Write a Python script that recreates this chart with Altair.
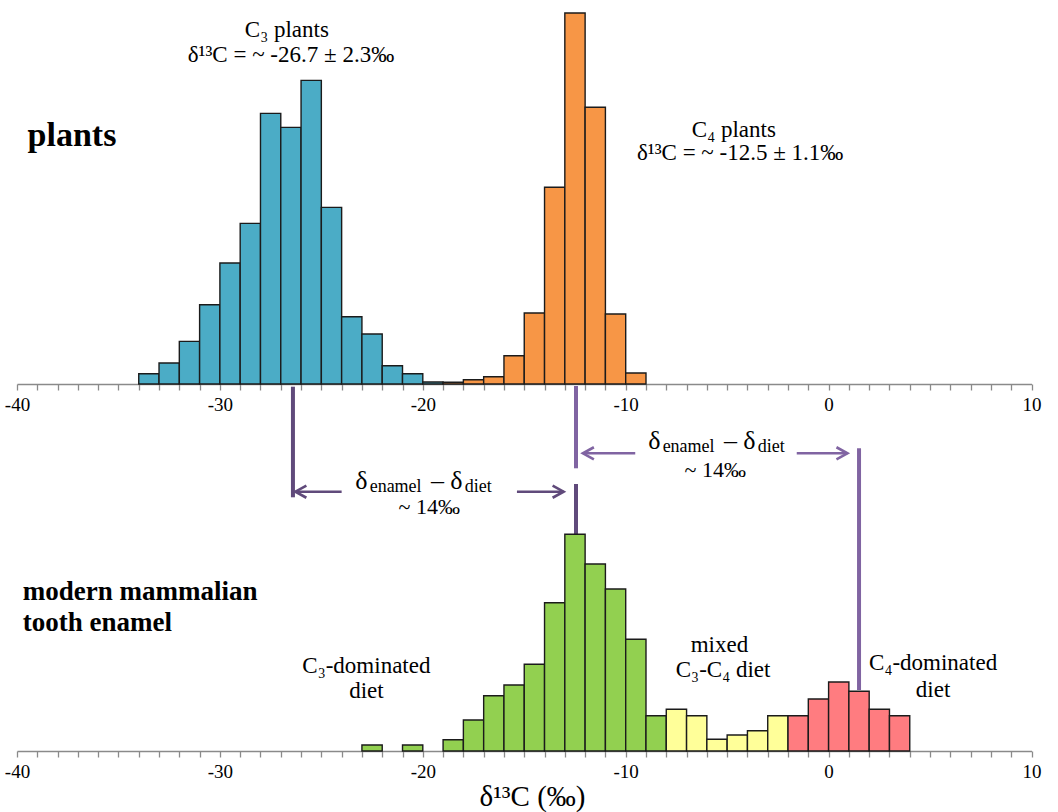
import altair as alt
import pandas as pd

# ---------------- data ----------------
# plants: bin start (δ13C, ‰, 1‰ bins) and relative frequency
c3_start = list(range(-34, -19))
c3_count = [10.3, 21, 42.6, 79.3, 121, 160.6, 270.6, 256.6, 303.6, 176.6, 67.3, 50, 18.3, 10.3, 2]
c4_start = list(range(-19, -9))
c4_count = [1.7, 4.3, 7.3, 28.3, 71, 196.7, 371, 276.7, 70, 11]

# modern mammalian tooth enamel
c3diet_start = [-23, -21, -19, -18, -17, -16, -15, -14, -13, -12, -11, -10, -9]
c3diet_count = [6, 6, 11.3, 31, 55.3, 66, 86.7, 148.3, 216.7, 187, 162, 111.7, 35.3]
mixed_start = [-8, -7, -6, -5, -4, -3]
mixed_count = [41.7, 35.3, 11.7, 16, 20.3, 35.3]
c4diet_start = [-2, -1, 0, 1, 2, 3]
c4diet_count = [35.3, 52, 69, 59.7, 41.7, 35.3]

tick_values = list(range(-40, 11))

group_names = ["C3", "C4", "C3 diet", "mixed", "C4 diet"]
group_colors = ["#4BACC6", "#F79646", "#92D050", "#FFFF99", "#FF7C80"]

DARK = "#604A7B"
LIGHT = "#8064A2"

# mean markers and offset arrows
vline_x = [-26.4, -12.45, -12.45, 1.5]
vline_y = [364.3, 365, 267, 302.7]
vline_y2 = [253.7, 282.7, 217, 61]
vline_col = [DARK, LIGHT, DARK, LIGHT]

shaft_x = [-26.28, -15.36, -12.11, -1.57]
shaft_x2 = [-24.0, -13.06, -9.53, 0.93]
shaft_y = [259.3, 259.3, 297.7, 297.7]
shaft_col = [DARK, DARK, LIGHT, LIGHT]

headL_x = [-26.28, -12.11]
headL_y = [259.3, 297.7]
headL_col = [DARK, LIGHT]
headR_x = [-13.06, 0.93]
headR_y = [259.3, 297.7]
headR_col = [DARK, LIGHT]

# ---------------- frames ----------------
plants = pd.DataFrame({
    "start": c3_start + c4_start,
    "count": c3_count + c4_count,
    "group": ["C3"] * len(c3_start) + ["C4"] * len(c4_start),
})
enamel = pd.DataFrame({
    "start": c3diet_start + mixed_start + c4diet_start,
    "count": c3diet_count + mixed_count + c4diet_count,
    "group": ["C3 diet"] * len(c3diet_start) + ["mixed"] * len(mixed_start) + ["C4 diet"] * len(c4diet_start),
})

FONT = "'Liberation Serif', 'Times New Roman', 'DejaVu Serif', serif"
W = 1014.5
H1 = 374
H2 = 320

xscale = alt.Scale(domain=[-40, 10], nice=False, zero=False)
label_expr = "datum.value % 10 == 0 ? '' + datum.value : ''"


def X(field, title=None):
    return alt.X(field, type="quantitative", scale=xscale,
                 axis=alt.Axis(values=tick_values, labelExpr=label_expr,
                               labelFlush=False, labelOverlap=False, title=title),
                 title=title)


def Y(field, dom):
    return alt.Y(field, type="quantitative", scale=alt.Scale(domain=[0, dom], nice=False, zero=True), axis=None)


fill_enc = alt.Fill("group:N", scale=alt.Scale(domain=group_names, range=group_colors), legend=None)


def bars(df, dom, title=None):
    return alt.Chart(df).transform_calculate(end="datum.start + 1").mark_rect(
        stroke="#1b1b1b", strokeWidth=1.4
    ).encode(
        x=X("start", title), x2=alt.X2("end:Q"),
        y=Y("count", dom), y2=alt.datum(0),
        fill=fill_enc,
    )


def texts(x, y, t, dom, size, align="center", weight="normal", title=None):
    df = pd.DataFrame({"x": x, "y": y, "t": t})
    return alt.Chart(df).mark_text(
        font=FONT, fontSize=size, align=align, baseline="alphabetic",
        fontWeight=weight, color="#000000"
    ).encode(x=X("x", title), y=Y("y", dom), text="t:N")


# ---------------- top panel: plants ----------------
top = alt.layer(
    bars(plants, H1),
    texts([-26.7, -26.5, -4.67, -4.36], [347, 322, 247, 224],
          ["C\u2083 plants", "\u03b4\u00b9\u00b3C = ~ -26.7 \u00b1 2.3\u2030",
           "C\u2084 plants", "\u03b4\u00b9\u00b3C = ~ -12.5 \u00b1 1.1\u2030"], H1, 23),
    texts([-39.48], [238], ["plants"], H1, 34, align="left", weight="bold"),
).properties(width=W, height=H1)

# ---------------- bottom panel: tooth enamel ----------------
TITLE = "\u03b4\u00b9\u00b3C (\u2030)"

vlines = alt.Chart(pd.DataFrame({"x": vline_x, "y": vline_y, "y2": vline_y2, "c": vline_col})).mark_rule(
    strokeWidth=4
).encode(x=X("x", TITLE), y=Y("y", H2), y2="y2:Q", color=alt.Color("c:N", scale=None))

shafts = alt.Chart(pd.DataFrame({"x": shaft_x, "x2": shaft_x2, "y": shaft_y, "c": shaft_col})).mark_rule(
    strokeWidth=2.6
).encode(x=X("x", TITLE), x2="x2:Q", y=Y("y", H2), color=alt.Color("c:N", scale=None))

headsL = alt.Chart(pd.DataFrame({"x": headL_x, "y": headL_y, "c": headL_col})).mark_point(
    shape="M 1 -0.55 L 0 0 L 1 0.55", filled=False, size=484, strokeWidth=2.6, opacity=1
).encode(x=X("x", TITLE), y=Y("y", H2), color=alt.Color("c:N", scale=None))

headsR = alt.Chart(pd.DataFrame({"x": headR_x, "y": headR_y, "c": headR_col})).mark_point(
    shape="M -1 -0.55 L 0 0 L -1 0.55", filled=False, size=484, strokeWidth=2.6, opacity=1
).encode(x=X("x", TITLE), y=Y("y", H2), color=alt.Color("c:N", scale=None))

bottom = alt.layer(
    vlines,
    bars(enamel, H2, TITLE),
    shafts, headsL, headsR,
    # δ_enamel − δ_diet labels
    texts([-23.33, -19.6, -18.65, -8.89, -5.16, -4.21], [262, 262, 262, 302, 302, 302],
          ["\u03b4", "\u2013", "\u03b4", "\u03b4", "\u2013", "\u03b4"], H2, 26, align="left", title=TITLE),
    texts([-22.62, -17.93, -8.18, -3.49], [259, 259, 299, 299],
          ["enamel", "diet", "enamel", "diet"], H2, 18, align="left", title=TITLE),
    texts([-19.68, -5.59], [237, 274], ["~ 14\u2030", "~ 14\u2030"], H2, 22, title=TITLE),
    # diet categories
    texts([-22.78, -22.78, -5.38, -5.2, 5.15, 5.15], [78, 53, 99, 74, 81, 54],
          ["C\u2083-dominated", "diet", "mixed", "C\u2083-C\u2084 diet", "C\u2084-dominated", "diet"],
          H2, 23, title=TITLE),
    texts([-39.72, -39.72], [151, 120], ["modern mammalian", "tooth enamel"], H2, 27,
          align="left", weight="bold", title=TITLE),
).properties(width=W, height=H2)

chart = alt.vconcat(top, bottom, spacing=47, bounds="flush").properties(
    padding={"left": 4, "top": 10, "right": 12, "bottom": 2}
).configure_view(stroke=None).configure_axis(
    grid=False,
    domainColor="#8a8a8a", domainWidth=1.5,
    tickColor="#8a8a8a", tickWidth=1.3, tickSize=6,
    labelFont=FONT, labelFontSize=19, labelColor="#000000", labelPadding=5,
    titleFont=FONT, titleFontSize=29, titleFontWeight="normal", titleColor="#000000",
    titlePadding=1, titleX=515,
)

chart.save("out.html", embed_options={"renderer": "svg", "actions": False})
